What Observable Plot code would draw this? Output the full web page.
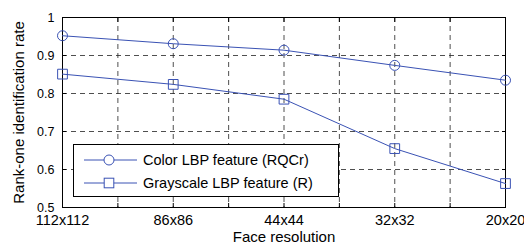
<!DOCTYPE html>
<html><head><meta charset="utf-8">
<script src="https://cdn.jsdelivr.net/npm/d3@7"></script>
<script src="https://cdn.jsdelivr.net/npm/@observablehq/plot@0.6"></script>
<style>
body{margin:0;background:#fff;}
#wrap{position:relative;width:524px;height:249px;font-family:"Liberation Sans",Arial,sans-serif;overflow:hidden;}
#legend{position:absolute;left:73px;top:144px;width:264px;height:51px;border:1px solid #000;background:#fff;}
#legend svg{display:block;}
</style></head><body><div id="wrap"></div>
<script>
const resolutions = ["112x112", "86x86", "44x44", "32x32", "20x20"];
const colorLBP = [0.952, 0.931, 0.914, 0.874, 0.835];
const grayLBP = [0.851, 0.824, 0.785, 0.655, 0.563];
const seriesNames = ["Color LBP feature (RQCr)", "Grayscale LBP feature (R)"];
const yTicks = [0.5, 0.6, 0.7, 0.8, 0.9, 1];
const xLabel = "Face resolution";
const yLabel = "Rank-one identification rate";
const blue = "#3a52b4";

const n = resolutions.length;
const colorRows = resolutions.map((r, i) => ({i, r, v: colorLBP[i]}));
const grayRows = resolutions.map((r, i) => ({i, r, v: grayLBP[i]}));
const halfTicks = d3.range(0, 2 * (n - 1) + 1).map(k => k / 2);
const gridStyle = {stroke: "#222", strokeOpacity: 1, strokeDasharray: "5,4", strokeWidth: 0.8};

const plot = Plot.plot({
  width: 524, height: 249,
  marginLeft: 62, marginRight: 19, marginTop: 17, marginBottom: 42,
  style: {fontFamily: "'Liberation Sans', Arial, sans-serif", background: "white", color: "#000"},
  x: {type: "linear", domain: [0, n - 1]},
  y: {domain: [0.5, 1]},
  marks: [
    Plot.gridX(halfTicks.slice(1, -1), gridStyle),
    Plot.gridY(yTicks.slice(1, -1), gridStyle),
    Plot.axisX(halfTicks, {tickSize: -4, tickFormat: () => "", label: null}),
    Plot.axisX(halfTicks, {anchor: "top", tickSize: -4, tickFormat: () => "", label: null}),
    Plot.axisX(d3.range(n), {tickSize: 0, tickPadding: 7.5, tickFormat: i => resolutions[i], fontSize: 14.5, label: null}),
    Plot.axisY(yTicks, {tickSize: -4, tickFormat: () => "", label: null}),
    Plot.axisY(yTicks, {anchor: "right", tickSize: -4, tickFormat: () => "", label: null}),
    Plot.axisY(yTicks, {tickSize: 0, tickPadding: 8, tickFormat: d => String(d), fontSize: 12.5, label: null}),
    Plot.frame({stroke: "#000"}),
    Plot.line(colorRows, {x: "i", y: "v", stroke: blue, strokeWidth: 1}),
    Plot.line(grayRows, {x: "i", y: "v", stroke: blue, strokeWidth: 1}),
    Plot.dot(colorRows, {x: "i", y: "v", symbol: "circle", r: 5, stroke: blue, fill: "none", strokeWidth: 1}),
    Plot.dot(grayRows, {x: "i", y: "v", symbol: "square", r: 5.5, stroke: blue, fill: "none", strokeWidth: 1}),
    Plot.text([xLabel], {frameAnchor: "bottom", textAnchor: "middle", dy: 34, fontSize: 15, fill: "#000"}),
    Plot.text([yLabel], {frameAnchor: "left", textAnchor: "middle", rotate: -90, dx: -43.5, fontSize: 15, fill: "#000"})
  ]
});

const wrap = document.getElementById("wrap");
wrap.appendChild(plot);

// legend overlay
const legend = document.createElement("div");
legend.id = "legend";
wrap.appendChild(legend);
const lsvg = d3.select(legend).append("svg").attr("width", 264).attr("height", 51)
  .style("font-family", "'Liberation Sans', Arial, sans-serif");
seriesNames.forEach((name, k) => {
  const g = lsvg.append("g").attr("transform", `translate(0,${15 + k * 23})`);
  g.append("line").attr("x1", 10).attr("x2", 63).attr("y1", 0).attr("y2", 0).attr("stroke", blue);
  if (k === 0) g.append("circle").attr("cx", 35).attr("cy", 0).attr("r", 5).attr("fill", "white").attr("stroke", blue);
  else g.append("rect").attr("x", 30.2).attr("y", -4.8).attr("width", 9.6).attr("height", 9.6).attr("fill", "white").attr("stroke", blue);
  g.append("text").attr("x", 69).attr("y", 0).attr("dy", "0.36em").attr("font-size", 14.5).attr("fill", "#000").text(name);
});
</script>
</body></html>
